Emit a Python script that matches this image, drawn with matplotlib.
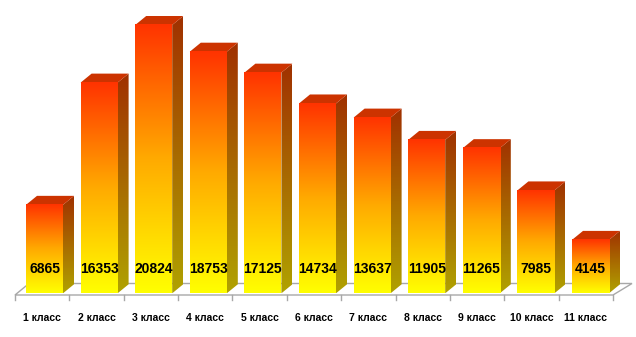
import numpy as np
import matplotlib
matplotlib.use("Agg")
import matplotlib.pyplot as plt
from matplotlib.patches import Polygon
from matplotlib.colors import to_rgb

categories = ["1 класс", "2 класс", "3 класс", "4 класс", "5 класс", "6 класс",
              "7 класс", "8 класс", "9 класс", "10 класс", "11 класс"]
values = [6865, 16353, 20824, 18753, 17125, 14734, 13637, 11905, 11265, 7985, 4145]

# layout constants (pixels)
PX = 54.6          # px per category
KY = 0.012884      # px per unit value
X0 = 44.5          # pixel x of first bar centre
Y0 = 293.3         # pixel y of baseline
W, H = 636, 337

def dx(px):  # pixel x -> data x
    return (px - X0) / PX

def dy(py):  # pixel y -> data y
    return (Y0 - py) / KY

fig = plt.figure(figsize=(W / 100, H / 100), dpi=100)
ax = fig.add_axes([0, 0, 1, 1])
xlim = (dx(0), dx(W))
ylim = (dy(H), dy(0))
ax.axis("off")

# floor
floor = Polygon([(dx(15), dy(295)), (dx(613), dy(295)), (dx(632), dy(283.5)), (dx(29), dy(283.5))],
                closed=True, facecolor="white", edgecolor="#a8a8a8", lw=1.0, zorder=1)
ax.add_patch(floor)
step = 598 / 11
for k in range(12):
    xp = 15 + k * step
    ax.plot([dx(xp), dx(xp)], [dy(295), dy(300)], color="#a8a8a8", lw=1.0, zorder=1)

hw = 18.5 / PX
ddx = 11 / PX
ddy = 9 / KY

def grad(stops, n=256):
    # stops: list of (position from bottom 0..1, colour)
    t = np.linspace(0, 1, n)
    pos = [s[0] for s in stops]
    cols = np.array([to_rgb(s[1]) for s in stops])
    out = np.stack([np.interp(t, pos, cols[:, c]) for c in range(3)], axis=1)
    return out[:, None, :]

front_g = grad([(0, "#ffff00"), (0.5, "#ffaa00"), (1, "#ff3300")])
side_g = grad([(0, "#b0a200"), (0.5, "#a86a00"), (1, "#a03000")])

for i, v in enumerate(values):
    # side
    side = Polygon([(i + hw, 0), (i + hw + ddx, ddy), (i + hw + ddx, v + ddy), (i + hw, v)],
                   closed=True, facecolor="none", edgecolor="none", zorder=2)
    ax.add_patch(side)
    im = ax.imshow(side_g, extent=(i + hw, i + hw + ddx, 0, v + ddy), origin="lower",
                   aspect="auto", zorder=2, interpolation="bilinear")
    im.set_clip_path(side)
    # top
    top = Polygon([(i - hw, v), (i + hw, v), (i + hw + ddx, v + ddy), (i - hw + ddx, v + ddy)],
                  closed=True, facecolor="#cc3300", edgecolor="none", zorder=3)
    ax.add_patch(top)
    # front
    ax.imshow(front_g, extent=(i - hw, i + hw, 0, v), origin="lower",
              aspect="auto", zorder=4, interpolation="bilinear")
    ax.text(i, dy(269), str(v), ha="center", va="center", fontsize=10,
            fontweight="bold", family="Liberation Sans", color="black", zorder=5)

for k, c in enumerate(categories):
    xp = 15 + (k + 0.5) * step
    ax.text(dx(xp), dy(318), c, ha="center", va="center", fontsize=7.5,
            fontweight="bold", family="Liberation Sans", color="black")

ax.set_xlim(*xlim)
ax.set_ylim(*ylim)
fig.savefig("out.png", dpi=100, facecolor="white")
